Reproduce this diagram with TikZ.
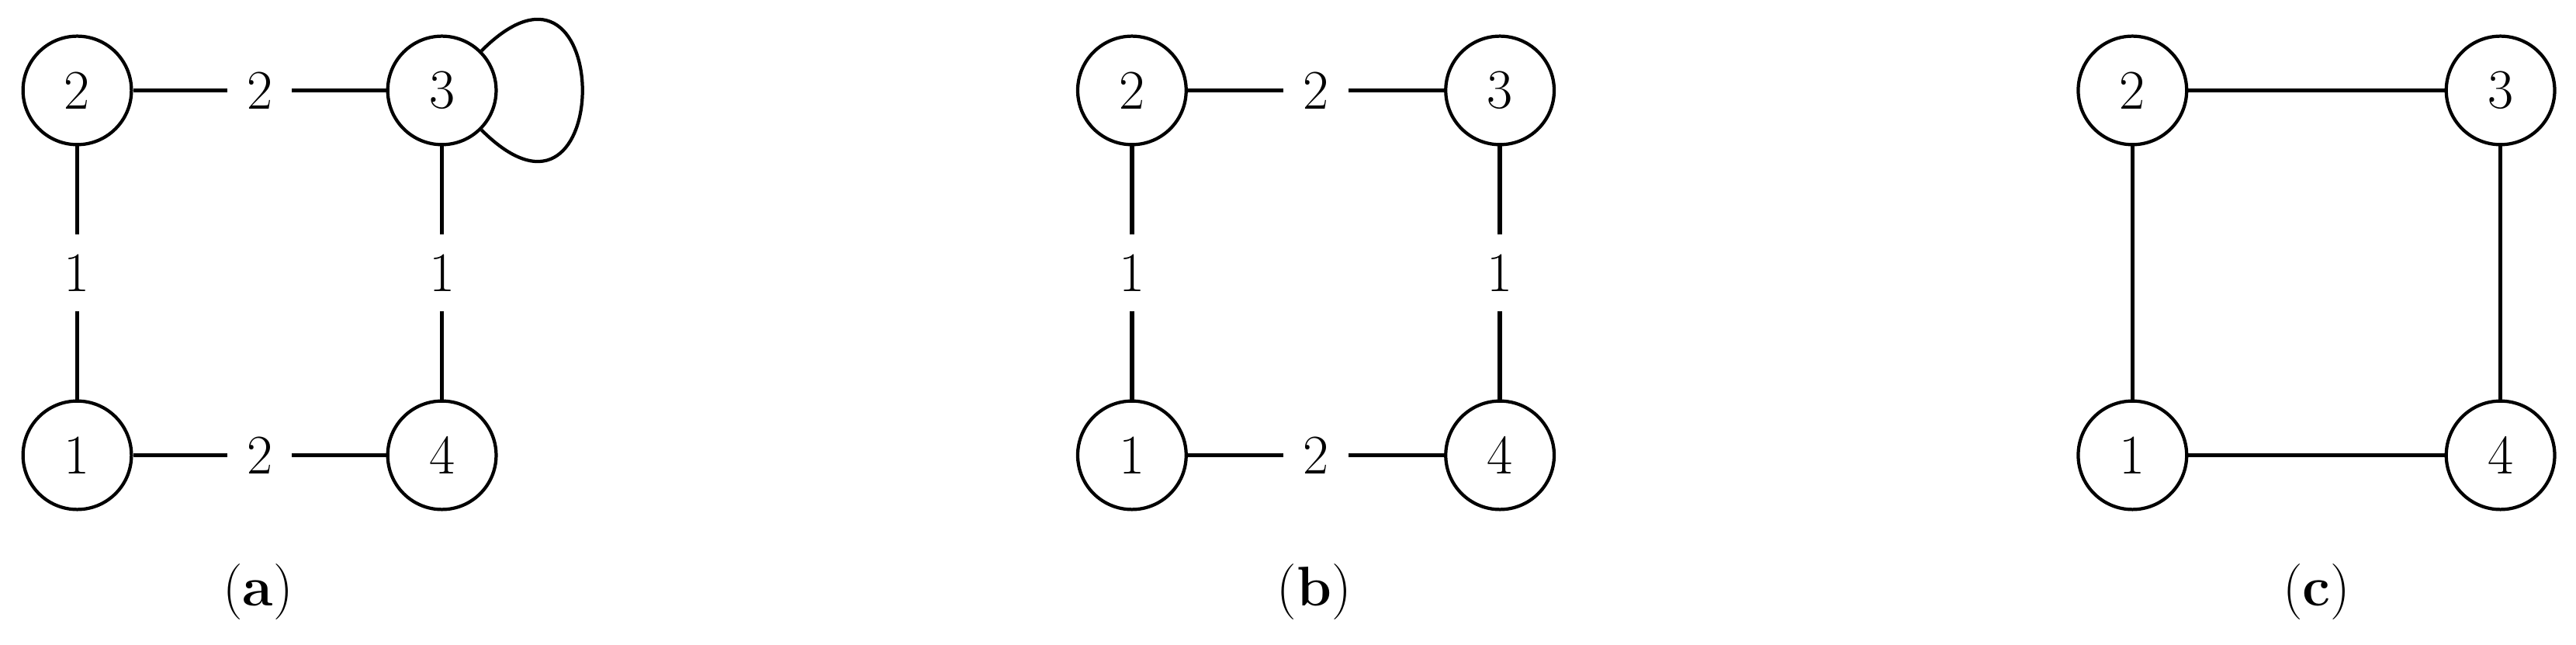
\documentclass[tikz,border=0pt]{standalone}
\begin{document}
\begin{tikzpicture}[x=0.5pt,y=-0.5pt,
  vtx/.style={circle,draw,line width=1pt,minimum size=33pt,inner sep=0pt,font=\fontsize{17}{20}\selectfont},
  edg/.style={line width=1.3pt},
  lab/.style={fill=white,inner sep=6pt,font=\fontsize{17}{20}\selectfont},
  captext/.style={font=\fontsize{17}{20}\selectfont}]
\useasboundingbox (0,0) rectangle (1568,392);
% (a)
\node[vtx] (a2) at (47,55) {2};
\node[vtx] (a3) at (269,55) {3};
\node[vtx] (a1) at (47,277) {1};
\node[vtx] (a4) at (269,277) {4};
\draw[edg] (a2) -- node[lab] (la23) {2} (a3);
\draw[edg] (a1) -- node[lab] (la14) {2} (a4);
\draw[edg] (a2) -- node[lab] (la21) {1} (a1);
\draw[edg] (a3) -- node[lab] (la34) {1} (a4);
\draw[line width=1pt] (a3) edge[out=45,in=-45,min distance=58pt] (a3);
\node[captext] (ca) at (157,360) {(\textbf{a})};
% (b)
\node[vtx] (b2) at (689,55) {2};
\node[vtx] (b3) at (913,55) {3};
\node[vtx] (b1) at (689,277) {1};
\node[vtx] (b4) at (913,277) {4};
\draw[edg] (b2) -- node[lab] (lb23) {2} (b3);
\draw[edg] (b1) -- node[lab] (lb14) {2} (b4);
\draw[edg] (b2) -- node[lab] (lb21) {1} (b1);
\draw[edg] (b3) -- node[lab] (lb34) {1} (b4);
\node[captext] (cb) at (800,360) {(\textbf{b})};
% (c)
\node[vtx] (c2) at (1298,55) {2};
\node[vtx] (c3) at (1522,55) {3};
\node[vtx] (c1) at (1298,277) {1};
\node[vtx] (c4) at (1522,277) {4};
\draw[edg] (c2) -- (c3);
\draw[edg] (c1) -- (c4);
\draw[edg] (c2) -- (c1);
\draw[edg] (c3) -- (c4);
\node[captext] (cc) at (1410,360) {(\textbf{c})};
\end{tikzpicture}
\end{document}
